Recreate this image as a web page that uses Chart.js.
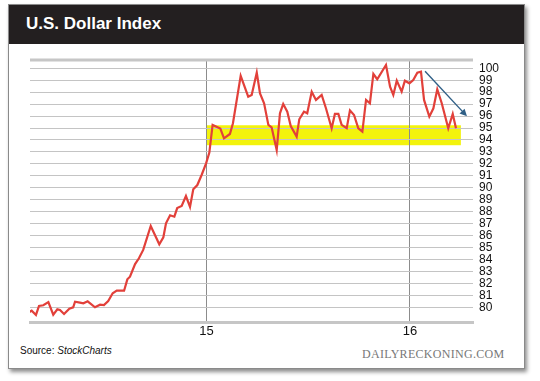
<!DOCTYPE html>
<html>
<head>
<meta charset="utf-8">
<script src="https://cdn.jsdelivr.net/npm/chart.js@4"></script>
<style>
  html, body { margin: 0; padding: 0; background: #fff; width: 540px; height: 381px; overflow: hidden; }
  #card { position: absolute; left: 8px; top: 4px; width: 515px; height: 363px; border: 1px solid #8a8a8a; background: #fff;
          box-shadow: 2px 3px 4px rgba(0,0,0,0.45); }
  #bar { position: absolute; left: 0; top: 0; width: 100%; height: 39px; background: #231f20; }
  #title { position: absolute; left: 17px; top: 9px; color: #fff; font: bold 17px "Liberation Sans", Arial, sans-serif; }
  #source { position: absolute; left: 20px; top: 345px; font: 10px "Liberation Sans", Arial, sans-serif; color: #111; }
  #brand { position: absolute; left: 362px; top: 347px; font: 12px "Liberation Serif", "Times New Roman", serif; color: #777; letter-spacing: 0.3px; }
  #c { position: absolute; left: 0; top: 0; }
</style>
</head>
<body>
<div id="card"><div id="bar"><div id="title">U.S. Dollar Index</div></div></div>
<div id="source">Source: <i>StockCharts</i></div>
<div id="brand">DAILYRECKONING.COM</div>
<canvas id="c" width="540" height="381"></canvas>
<script>
const years = [14.124,14.141,14.162,14.177,14.198,14.223,14.247,14.267,14.280,14.300,
  14.326,14.345,14.354,14.378,14.395,14.416,14.452,14.477,14.496,14.517,
  14.539,14.559,14.595,14.611,14.624,14.649,14.668,14.689,14.726,14.768,
  14.788,14.801,14.821,14.842,14.856,14.878,14.899,14.919,14.935,14.955,
  14.976,14.998,15.014,15.030,15.068,15.086,15.115,15.130,15.168,15.205,
  15.222,15.247,15.263,15.283,15.304,15.320,15.345,15.361,15.377,15.397,
  15.414,15.443,15.456,15.479,15.495,15.517,15.538,15.566,15.587,15.615,
  15.631,15.648,15.664,15.689,15.705,15.725,15.746,15.766,15.784,15.803,
  15.820,15.839,15.882,15.902,15.918,15.935,15.959,15.975,15.997,16.016,
  16.036,16.054,16.069,16.095,16.115,16.134,16.156,16.188,16.210,16.226];
const dollarIndex = [79.55,79.72,79.36,80.11,80.17,80.44,79.38,79.83,79.77,79.44,
  79.88,80.0,80.47,80.39,80.33,80.5,80.0,80.22,80.19,80.53,
  81.17,81.39,81.39,82.34,82.56,83.62,84.1,84.8,86.8,85.27,
  85.86,87.03,87.7,87.58,88.3,88.48,89.31,88.4,89.87,90.23,
  91.07,92.05,92.94,95.26,94.95,94.14,94.5,95.4,99.36,97.62,
  97.77,99.63,97.9,97.07,95.26,95.06,93.16,96.23,97.01,96.37,
  95.17,94.28,95.73,96.37,96.23,98.04,97.35,97.77,96.65,94.98,
  96.18,96.18,95.26,94.98,96.48,96.09,94.98,94.7,97.35,97.07,
  99.52,99.08,100.28,98.46,97.77,98.96,98.04,98.96,98.74,99.02,
  99.63,99.72,97.35,95.95,96.65,98.24,97.07,94.98,96.18,94.98];
const xTicks = [15, 16];
const xTickLabels = ['15', '16'];
const yTicks = [80,81,82,83,84,85,86,87,88,89,90,91,92,93,94,95,96,97,98,99,100];
const bandX = [15.0, 16.25];
const bandY = [93.56, 95.23];
const arrowX = [16.074, 16.28];
const arrowY = [99.75, 95.98];

const points = years.map((x, i) => ({ x: x, y: dollarIndex[i] }));

const decor = {
  id: 'decor',
  beforeDraw(chart) {
    const { ctx, scales: { x, y } } = chart;
    ctx.save();
    ctx.fillStyle = '#f3f30c';
    const x0 = x.getPixelForValue(bandX[0]), x1 = x.getPixelForValue(bandX[1]);
    const y0 = y.getPixelForValue(bandY[1]), y1 = y.getPixelForValue(bandY[0]);
    ctx.fillRect(x0, y0, x1 - x0, y1 - y0);
    ctx.restore();
  },
  afterDatasetsDraw(chart) {
    const { ctx, chartArea: a, scales: { x, y } } = chart;
    ctx.save();
    ctx.strokeStyle = '#c6c6c6';
    ctx.lineWidth = 3;
    ctx.beginPath();
    ctx.moveTo(a.left, a.top);
    ctx.lineTo(a.right, a.top);
    ctx.stroke();
    // arrow
    const sx = x.getPixelForValue(arrowX[0]), sy = y.getPixelForValue(arrowY[0]);
    const ex = x.getPixelForValue(arrowX[1]), ey = y.getPixelForValue(arrowY[1]);
    const ang = Math.atan2(ey - sy, ex - sx);
    ctx.strokeStyle = '#2f5f86';
    ctx.fillStyle = '#2f5f86';
    ctx.lineWidth = 1.4;
    ctx.beginPath();
    ctx.moveTo(sx, sy);
    ctx.lineTo(ex - 4 * Math.cos(ang), ey - 4 * Math.sin(ang));
    ctx.stroke();
    const L = 8, W = 0.45;
    ctx.beginPath();
    ctx.moveTo(ex, ey);
    ctx.lineTo(ex - L * Math.cos(ang - W), ey - L * Math.sin(ang - W));
    ctx.lineTo(ex - L * Math.cos(ang + W), ey - L * Math.sin(ang + W));
    ctx.closePath();
    ctx.fill();
    ctx.restore();
  }
};

new Chart(document.getElementById('c'), {
  type: 'line',
  data: {
    datasets: [{
      data: points,
      borderColor: '#e2403a',
      borderWidth: 2.2,
      pointRadius: 0,
      tension: 0,
      fill: false
    }]
  },
  options: {
    responsive: false,
    animation: false,
    events: [],
    layout: { padding: { left: 30, top: 60, right: 20, bottom: 0 } },
    plugins: { legend: { display: false }, tooltip: { enabled: false } },
    scales: {
      x: {
        type: 'linear',
        min: 14.1327,
        max: 16.3096,
        afterBuildTicks: s => { s.ticks = xTicks.map(v => ({ value: v })); },
        afterFit: s => { s.height = 59; },
        ticks: {
          callback: (v) => { const i = xTicks.indexOf(v); return i >= 0 ? xTickLabels[i] : ''; },
          color: '#111',
          font: { family: '"Liberation Sans", Arial, sans-serif', size: 13 },
          padding: 2,
          maxRotation: 0
        },
        grid: { color: '#8c8c8c', lineWidth: 1, drawTicks: false },
        border: { display: true, color: '#c6c6c6', width: 3 }
      },
      y: {
        position: 'right',
        min: 78.77,
        max: 100.69,
        afterBuildTicks: s => { s.ticks = yTicks.map(v => ({ value: v })); },
        afterFit: s => { s.width = 47; },
        ticks: {
          color: '#111',
          font: { family: '"Liberation Sans", Arial, sans-serif', size: 12 },
          padding: 6,
          autoSkip: false
        },
        grid: { color: '#c4c4c4', lineWidth: 1, drawTicks: false },
        border: { display: false }
      }
    }
  },
  plugins: [decor]
});
</script>
</body>
</html>
